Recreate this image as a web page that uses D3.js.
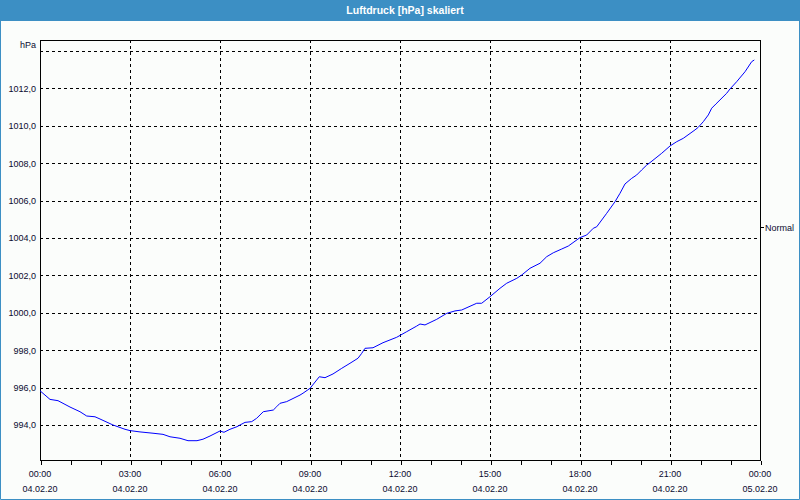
<!DOCTYPE html>
<html>
<head>
<meta charset="utf-8">
<script src="https://cdn.jsdelivr.net/npm/d3@7/dist/d3.min.js"></script>
<style>
  html, body { margin: 0; padding: 0; background: #fbfdfb; }
  svg { display: block; }
  text { font-family: "Liberation Sans", Arial, sans-serif; }
</style>
</head>
<body>
<script>
// ---- data (hours since 04.02.20 00:00, pressure in hPa) ----
const chartTitle = "Luftdruck [hPa] skaliert";
const unitLabel = "hPa";
const seriesName = "Normal";
const hours = [0,0.333,0.6,1.0,1.333,1.557,1.833,2.0,2.433,2.833,3.0,3.333,3.767,4.1,4.333,4.667,4.933,5.233,5.433,5.667,6.0,6.133,6.333,6.567,6.667,6.833,7.057,7.223,7.443,7.777,7.89,8.0,8.223,8.667,8.767,9.0,9.31,9.5,9.767,10.057,10.333,10.6,10.723,10.833,11.1,11.433,11.89,12.223,12.557,12.667,12.833,13.223,13.557,13.833,14.057,14.557,14.723,15.0,15.333,15.557,15.89,16.057,16.333,16.667,16.89,17.11,17.39,17.61,18.0,18.223,18.443,18.557,18.89,19.167,19.333,19.5,19.723,19.89,20.057,20.223,20.333,20.723,21.0,21.223,21.443,21.833,21.943,22.11,22.277,22.39,22.533,22.89,23.0,23.223,23.5,23.723,23.81];
const pressure = [995.83,995.37,995.30,994.96,994.71,994.48,994.44,994.32,994.00,993.77,993.70,993.63,993.56,993.50,993.37,993.29,993.16,993.16,993.24,993.41,993.68,993.61,993.77,993.91,994.00,994.14,994.18,994.36,994.71,994.80,994.98,995.16,995.25,995.60,995.70,995.96,996.58,996.53,996.73,997.03,997.30,997.57,997.83,998.10,998.13,998.40,998.69,998.99,999.29,999.40,999.35,999.65,999.97,1000.10,1000.15,1000.51,1000.51,1000.86,1001.31,1001.58,1001.84,1002.02,1002.38,1002.65,1003.00,1003.21,1003.41,1003.57,1004.02,1004.16,1004.52,1004.60,1005.32,1005.94,1006.39,1006.89,1007.19,1007.37,1007.64,1007.90,1008.03,1008.53,1008.92,1009.15,1009.33,1009.78,1009.92,1010.22,1010.58,1010.94,1011.17,1011.74,1011.97,1012.36,1012.89,1013.43,1013.52];
const xTickHours = [0,3,6,9,12,15,18,21,24];
const xTickTimes = ["00:00","03:00","06:00","09:00","12:00","15:00","18:00","21:00","00:00"];
const xTickDates = ["04.02.20","04.02.20","04.02.20","04.02.20","04.02.20","04.02.20","04.02.20","04.02.20","05.02.20"];
const yGridValues = [994,996,998,1000,1002,1004,1006,1008,1010,1012,1014];
const yLabelValues = [994,996,998,1000,1002,1004,1006,1008,1010,1012];

// ---- layout ----
const W = 800, H = 500;
const blue = "#3c8fc4";
const L = 40, R = 760, T = 40, B = 460;

const svg = d3.select("body").append("svg").attr("width", W).attr("height", H);

svg.append("rect").attr("x", 0).attr("y", 0).attr("width", W).attr("height", H).attr("fill", "#fbfdfb");
// title bar
svg.append("rect").attr("x", 0).attr("y", 0).attr("width", W).attr("height", 21).attr("fill", blue);
svg.append("text").attr("x", 405).attr("y", 14).attr("text-anchor", "middle")
  .attr("fill", "#fff").attr("font-weight", "bold").attr("font-size", "10.5px").text(chartTitle);
// outer border
svg.append("path").attr("d", `M0.5,21 V499.5 H799.5 V21`).attr("fill", "none").attr("stroke", blue);

const x = d3.scaleLinear().domain([0, 24]).range([L, R]);
const y = d3.scaleLinear().domain([992.128, 1014.588]).range([B, T]);

const g = svg.append("g").attr("shape-rendering", "crispEdges");

// horizontal grid
g.selectAll("line.hg").data(yGridValues).join("line")
  .attr("x1", L).attr("x2", R)
  .attr("y1", d => Math.round(y(d)) + 0.5).attr("y2", d => Math.round(y(d)) + 0.5)
  .attr("stroke", "#000").attr("stroke-dasharray", "3,3");
// vertical grid
g.selectAll("line.vg").data(xTickHours.slice(1, -1)).join("line")
  .attr("y1", T).attr("y2", B)
  .attr("x1", d => Math.round(x(d)) + 0.5).attr("x2", d => Math.round(x(d)) + 0.5)
  .attr("stroke", "#000").attr("stroke-dasharray", "3,3");

// frame
g.append("rect").attr("x", L + 0.5).attr("y", T + 0.5).attr("width", R - L).attr("height", B - T)
  .attr("fill", "none").attr("stroke", "#000");

// x axis minor/major ticks (hourly)
const xAxis = d3.axisBottom(x).tickValues(d3.range(0, 25, 1)).tickSize(4).tickFormat("");
const xa = svg.append("g").attr("transform", `translate(0.5,${B + 0.5})`).attr("shape-rendering", "crispEdges").call(xAxis);
xa.select(".domain").remove();

// x labels
const xl = svg.append("g");
xl.selectAll("text.t").data(xTickHours).join("text")
  .attr("x", (d) => x(d)).attr("y", 477).attr("text-anchor", "middle")
  .attr("font-size", "9px").attr("fill", "#0a0a30").text((d, i) => xTickTimes[i]);
xl.selectAll("text.d").data(xTickHours).join("text")
  .attr("class", "d")
  .attr("x", (d) => x(d)).attr("y", 492).attr("text-anchor", "middle")
  .attr("font-size", "9px").attr("fill", "#0a0a30").text((d, i) => xTickDates[i]);

// y labels
svg.append("g").selectAll("text").data(yLabelValues).join("text")
  .attr("x", 36).attr("y", d => y(d) + 3.5).attr("text-anchor", "end")
  .attr("font-size", "9px").attr("fill", "#0a0a30")
  .text(d => d.toFixed(1).replace(".", ","));
svg.append("text").attr("x", 36).attr("y", 48).attr("text-anchor", "end")
  .attr("font-size", "9px").attr("fill", "#0a0a30").text(unitLabel);

// line
const data = hours.map((h, i) => [h, pressure[i]]);
svg.append("path").datum(data)
  .attr("fill", "none").attr("stroke", "#0000ff").attr("stroke-width", 1)
  .attr("d", d3.line().x(d => x(d[0])).y(d => y(d[1])));

// legend
svg.append("line").attr("x1", 761).attr("x2", 764).attr("y1", 227.5).attr("y2", 227.5)
  .attr("stroke", "#000").attr("shape-rendering", "crispEdges");
svg.append("text").attr("x", 765).attr("y", 231).attr("font-size", "9px").attr("fill", "#0a0a30").text(seriesName);
</script>
</body>
</html>
